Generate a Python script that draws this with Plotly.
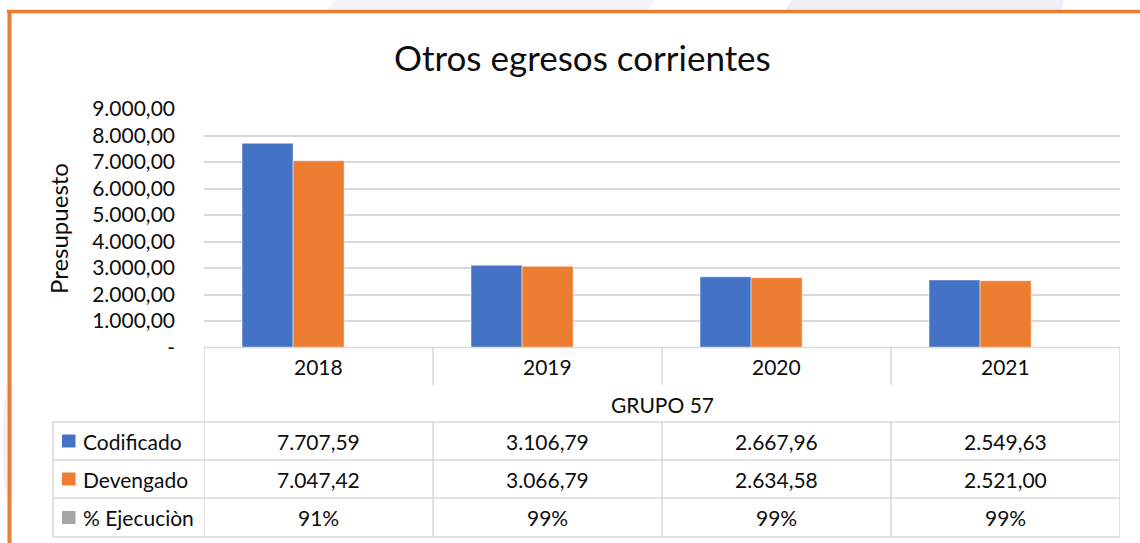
import plotly.graph_objects as go

# ---------------- data ----------------
years = ["2018", "2019", "2020", "2021"]
codificado = [7707.59, 3106.79, 2667.96, 2549.63]
devengado = [7047.42, 3066.79, 2634.58, 2521.00]
ejecucion_pct = [91, 99, 99, 99]
group_label = "GRUPO 57"
series_names = ["Codificado", "Devengado", "% Ejecuciòn"]
y_tickvals = [0, 1000, 2000, 3000, 4000, 5000, 6000, 7000, 8000, 9000]
y_ticktext = ["-", "1.000,00", "2.000,00", "3.000,00", "4.000,00",
              "5.000,00", "6.000,00", "7.000,00", "8.000,00", "9.000,00"]
title_text = "Otros egresos corrientes"
y_title = "Presupuesto"

# ---------------- style ----------------
W, H = 1140, 543
BLUE, ORANGE, GREY = "#4472C4", "#ED7D31", "#A5A5A5"
GRID = "#d9d9d9"
TXT = "#0d0d0d"
FONT = "Lato"
FS = 21


def px(x):
    return x / W


def py(y):
    return 1 - y / H


def fmt_es(v):
    s = f"{v:,.2f}"
    return s.replace(",", "X").replace(".", ",").replace("X", ".")


BAR_W = 0.223
fig = go.Figure()
fig.add_trace(go.Bar(x=years, y=codificado, name=series_names[0], width=BAR_W, offset=-0.334,
                     marker=dict(color=BLUE, line=dict(color="white", width=0.5))))
fig.add_trace(go.Bar(x=years, y=devengado, name=series_names[1], width=BAR_W, offset=-0.111,
                     marker=dict(color=ORANGE, line=dict(color="white", width=0.5))))

plot_left, plot_right = 204, 1120
plot_top, plot_bottom = 109, 347.5

shapes = []
ann = []


def ppath(points):
    return "M " + " L ".join(f"{px(a):.5f},{py(b):.5f}" for a, b in points) + " Z"


# faint background watermark shapes
shapes.append(dict(type="path", xref="paper", yref="paper", layer="below",
                   path=ppath([(336, 0), (656, 0), (648, 10), (327, 10)]),
                   fillcolor="#f3f5f8", line=dict(width=0)))
shapes.append(dict(type="path", xref="paper", yref="paper", layer="below",
                   path=ppath([(792, 0), (1064, 0), (1061, 10), (785, 10)]),
                   fillcolor="#eef0f5", line=dict(width=0)))
shapes.append(dict(type="path", xref="paper", yref="paper", layer="below",
                   path=f"M {px(7):.5f},{py(380):.5f} Q {px(-2):.5f},{py(440):.5f} {px(7):.5f},{py(505):.5f} Z",
                   fillcolor="#eef1f6", line=dict(width=0)))

# orange frame
shapes.append(dict(type="line", xref="paper", yref="paper", x0=px(7), x1=px(1140),
                   y0=py(11.5), y1=py(11.5), line=dict(color=ORANGE, width=3.5)))
shapes.append(dict(type="line", xref="paper", yref="paper", x0=px(9.5), x1=px(9.5),
                   y0=py(10), y1=py(543), line=dict(color=ORANGE, width=4)))

# table geometry (pixel rows)
row_hdr_bottom = 385
row_lines = [422, 460, 498, 537]
tbl_left = 53
lw = 1.5
n = len(years)

shapes.append(dict(type="line", xref="paper", yref="paper", x0=px(plot_left), x1=px(plot_right),
                   y0=py(plot_bottom), y1=py(plot_bottom), line=dict(color=GRID, width=lw)))
for yy in row_lines:
    shapes.append(dict(type="line", xref="paper", yref="paper", x0=px(tbl_left), x1=px(plot_right),
                       y0=py(yy), y1=py(yy), line=dict(color=GRID, width=lw)))
shapes.append(dict(type="line", xref="x", yref="paper", x0=-0.5, x1=-0.5,
                   y0=py(plot_bottom), y1=py(row_lines[-1]), line=dict(color=GRID, width=lw)))
shapes.append(dict(type="line", xref="x", yref="paper", x0=n - 0.5, x1=n - 0.5,
                   y0=py(plot_bottom), y1=py(row_lines[-1]), line=dict(color=GRID, width=lw)))
shapes.append(dict(type="line", xref="paper", yref="paper", x0=px(tbl_left), x1=px(tbl_left),
                   y0=py(row_lines[0]), y1=py(row_lines[-1]), line=dict(color=GRID, width=lw)))
for i in range(1, n):
    xb = i - 0.5
    shapes.append(dict(type="line", xref="x", yref="paper", x0=xb, x1=xb,
                       y0=py(plot_bottom), y1=py(row_hdr_bottom), line=dict(color=GRID, width=lw)))
    shapes.append(dict(type="line", xref="x", yref="paper", x0=xb, x1=xb,
                       y0=py(row_lines[0]), y1=py(row_lines[-1]), line=dict(color=GRID, width=lw)))

# header year labels
for i, yr in enumerate(years):
    ann.append(dict(x=i, y=py(366), xref="x", yref="paper", text=yr, showarrow=False,
                    font=dict(family=FONT, size=FS, color=TXT), xanchor="center", yanchor="middle"))
ann.append(dict(x=(n - 1) / 2, y=py(404), xref="x", yref="paper", text=group_label,
                showarrow=False, font=dict(family=FONT, size=FS, color=TXT),
                xanchor="center", yanchor="middle"))

rows = [
    (series_names[0], BLUE, [fmt_es(v) for v in codificado]),
    (series_names[1], ORANGE, [fmt_es(v) for v in devengado]),
    (series_names[2], GREY, [f"{p}%" for p in ejecucion_pct]),
]
for r, (name, col, vals) in enumerate(rows):
    yc = (row_lines[r] + row_lines[r + 1]) / 2
    shapes.append(dict(type="rect", xref="paper", yref="paper", x0=px(62), x1=px(75.5),
                       y0=py(yc - 6.5), y1=py(yc + 6.5), fillcolor=col, line=dict(width=0)))
    ann.append(dict(x=px(81), y=py(yc), xref="paper", yref="paper", text=name, showarrow=False,
                    font=dict(family=FONT, size=FS, color=TXT), xanchor="left", yanchor="middle"))
    for i, v in enumerate(vals):
        ann.append(dict(x=i, y=py(yc), xref="x", yref="paper", text=v, showarrow=False,
                        font=dict(family=FONT, size=FS, color=TXT), xanchor="center", yanchor="middle"))

ann.append(dict(x=px(582), y=py(57), xref="paper", yref="paper", text=title_text, showarrow=False,
                font=dict(family=FONT, size=35, color=TXT), xanchor="center", yanchor="middle"))
ann.append(dict(x=px(59), y=py(229), xref="paper", yref="paper", text=y_title, showarrow=False,
                textangle=-90, font=dict(family=FONT, size=24, color=TXT),
                xanchor="center", yanchor="middle"))

fig.update_layout(
    width=W, height=H, autosize=False,
    margin=dict(l=0, r=0, t=0, b=0, pad=0, autoexpand=False),
    paper_bgcolor="white", plot_bgcolor="white",
    barmode="overlay",
    showlegend=False,
    shapes=shapes, annotations=ann,
    xaxis=dict(domain=[px(plot_left), px(plot_right)], range=[-0.5, n - 0.5],
               showticklabels=False, showgrid=False, zeroline=False, showline=False,
               type="category", automargin=False),
    yaxis=dict(domain=[py(plot_bottom), py(plot_top)], range=[0, 9000],
               tickvals=y_tickvals, ticktext=y_ticktext,
               showgrid=True, gridcolor=GRID, gridwidth=1.5, zeroline=False, showline=False,
               ticklabelstandoff=28, automargin=False,
               tickfont=dict(family=FONT, size=FS, color=TXT)),
)

fig.write_html("out.html", config={"displayModeBar": False},
               post_script="document.body.style.margin='0';document.body.style.overflow='hidden';")
